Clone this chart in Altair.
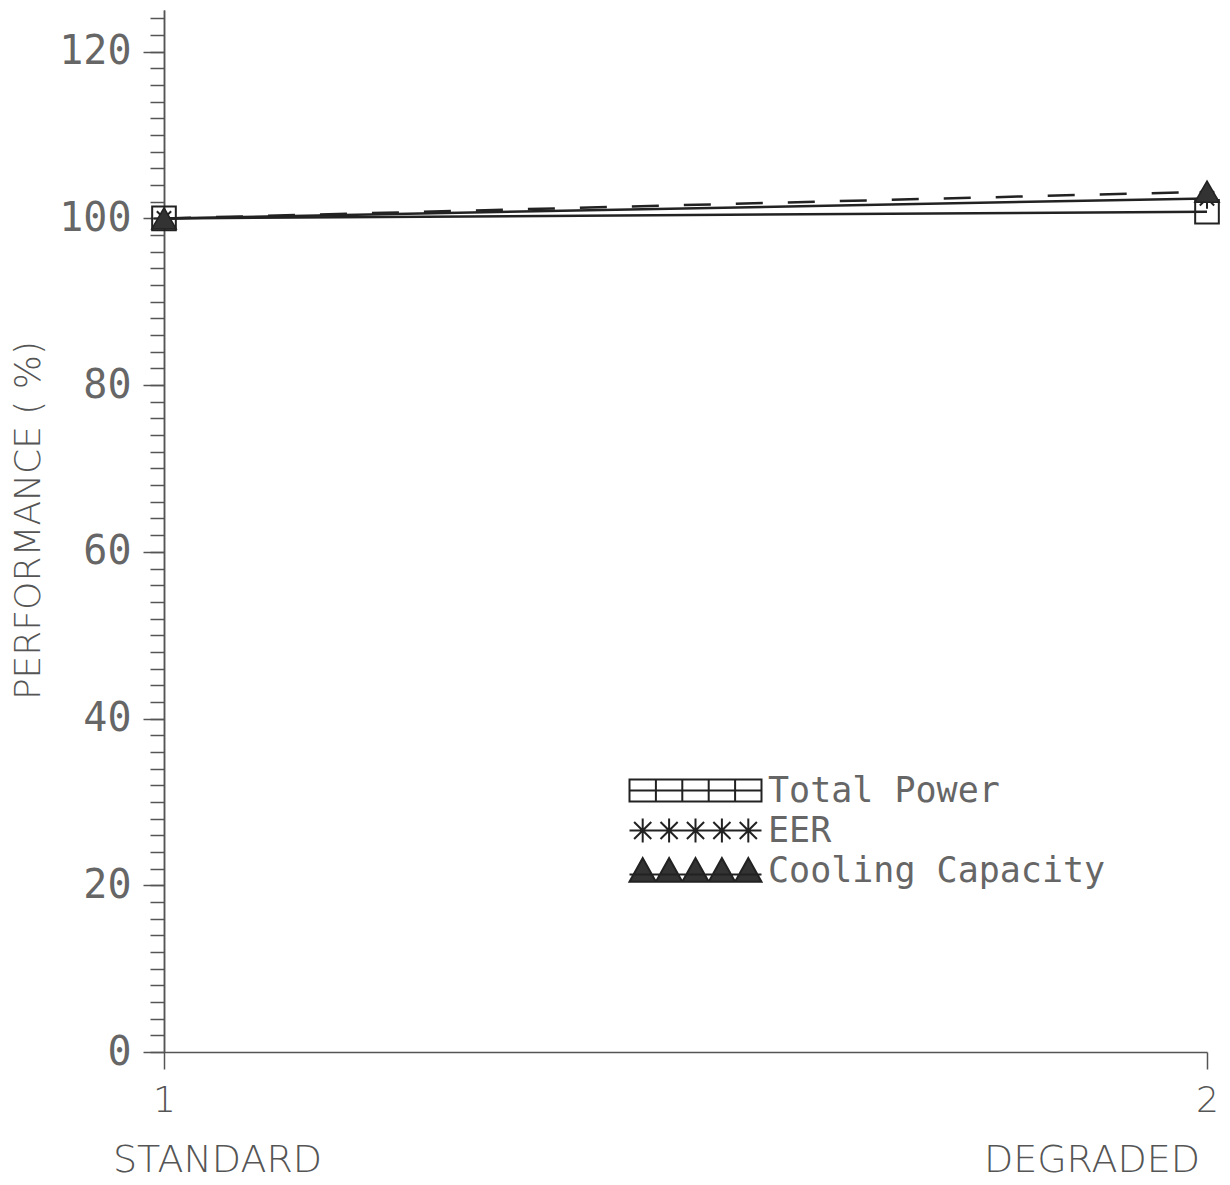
import altair as alt
import pandas as pd

# ---- data ----
x_vals = [1, 2]
x_names = ["STANDARD", "DEGRADED"]
series = ["Total Power", "EER", "Cooling Capacity"]
total_power = [100.0, 100.8]
eer = [100.0, 102.4]
cooling_capacity = [100.0, 103.2]
y_major = list(range(0, 121, 20))
y_minor = list(range(0, 125, 2))

rows = []
for name, vals in zip(series, [total_power, eer, cooling_capacity]):
    for xv, v in zip(x_vals, vals):
        rows.append({"x": xv, "value": v, "series": name})
df = pd.DataFrame(rows)
names_df = pd.DataFrame({"x": x_vals, "name": x_names})

INK = "#222222"
TXT = "#555555"
AX = "#555555"

# ---- legend symbol strips (5 markers joined by a line) ----
centers = [-4, -2, 0, 2, 4]
sq_path = "M-5,-0.83H5V0.83H-5Z" + "".join(f"M{c},-0.83V0.83" for c in [-3, -1, 1, 3]) + "M-5,0H5"
ast_path = "M-5,0H5" + "".join(
    f"M{c-0.9:.2f},0H{c+0.9:.2f}M{c},-0.9V0.9M{c-0.65:.2f},-0.65L{c+0.65:.2f},0.65M{c-0.65:.2f},0.65L{c+0.65:.2f},-0.65"
    for c in centers)
tri_path = "".join(f"M{c-1},0.85L{c},-0.95L{c+1},0.85Z" for c in centers) + "M-5,0.3H5"

yscale = alt.Scale(domain=[0, 125], nice=False)
x_enc = alt.X("x:Q", scale=alt.Scale(domain=[1, 2], nice=False, zero=False),
              axis=alt.Axis(values=x_vals, format="d", title=None, grid=False,
                            tickSize=17, labelFlush=False, labelPadding=14,
                            labelOverlap=False,
                            labelFont="DejaVu Sans", labelFontSize=36,
                            labelFontWeight=200, labelColor=TXT,
                            domainColor=AX, tickColor=AX,
                            domainWidth=1.5, tickWidth=1.5))
y_major_enc = alt.Y("value:Q", scale=yscale,
                    axis=alt.Axis(values=y_major, format="d", orient="left",
                                  labelOverlap=False, tickSize=21,
                                  grid=False, labelPadding=12,
                                  labelFont="DejaVu Sans Mono", labelFontSize=40,
                                  labelColor="#666666",
                                  domainColor=AX, tickColor=AX,
                                  domainWidth=1.5, tickWidth=1.5,
                                  title="PERFORMANCE ( %)", titleFont="DejaVu Sans",
                                  titleFontSize=36, titleFontWeight=200, titleColor=TXT,
                                  titleX=-136, titleY=510, titleBaseline="middle",
                                  titleAngle=270))
y_minor_enc = alt.Y("value:Q", scale=yscale,
                    axis=alt.Axis(values=y_minor, orient="left", labels=False,
                                  title=None, tickSize=14, grid=False,
                                  domainColor=AX, tickColor=AX,
                                  domainWidth=1.5, tickWidth=1.5))
y_none = alt.Y("value:Q", scale=yscale, axis=None)

base = alt.Chart(df)

solid_lines = base.transform_filter(alt.datum.series != "Cooling Capacity").mark_line(
    strokeWidth=2.5, color=INK
).encode(x=x_enc, y=y_major_enc, detail="series:N")

dashed_line = base.transform_filter(alt.datum.series == "Cooling Capacity").mark_line(
    strokeWidth=2.5, color=INK, strokeDash=[27, 25]
).encode(x="x:Q", y=y_none)

leg = alt.Legend(title=None, orient="none", legendX=514, legendY=763, padding=0,
                 labelFont="DejaVu Sans Mono", labelFontSize=35, labelColor="#666666",
                 labelOffset=55, rowPadding=4, symbolSize=697, symbolStrokeWidth=2,
                 symbolOpacity=1, labelLimit=600)

legend_layer = base.mark_point(
    filled=True, strokeWidth=2
).encode(
    x="x:Q", y=y_minor_enc,
    opacity=alt.value(0),
    shape=alt.Shape("series:N", scale=alt.Scale(domain=series, range=[sq_path, ast_path, tri_path]),
                    legend=leg),
    fill=alt.Fill("series:N", scale=alt.Scale(domain=series, range=["transparent", "transparent", "#333333"]),
                  legend=leg),
    stroke=alt.Stroke("series:N", scale=alt.Scale(domain=series, range=[INK, INK, INK]),
                      legend=leg),
)

squares = base.transform_filter(alt.datum.series == "Total Power").mark_point(
    shape="square", size=560, filled=False, stroke=INK, strokeWidth=2, opacity=1
).encode(x="x:Q", y=y_none)

asterisks = base.transform_filter(alt.datum.series == "EER").mark_point(
    shape="M-1,0L1,0M0,-1L0,1M-0.7,-0.7L0.7,0.7M-0.7,0.7L0.7,-0.7",
    size=420, filled=False, stroke=INK, strokeWidth=2, opacity=1
).encode(x="x:Q", y=y_none)

triangles = base.transform_filter(alt.datum.series == "Cooling Capacity").mark_point(
    shape="triangle-up", size=600, filled=True, fill="#333333", stroke=INK,
    strokeWidth=1.5, opacity=1
).encode(x="x:Q", y=y_none)

cat_layers = []
for i, (al, dx) in enumerate([("left", -51), ("right", -7)]):
    cat_layers.append(
        alt.Chart(names_df.iloc[[i]]).mark_text(
            align=al, dx=dx, baseline="middle", font="DejaVu Sans", fontSize=38,
            fontWeight=200, color=TXT
        ).encode(x="x:Q", y=alt.value(1151), text="name:N")
    )

chart = alt.layer(solid_lines, dashed_line, legend_layer, squares, asterisks, triangles,
                  *cat_layers).resolve_axis(
    y="independent"
).properties(
    width=1043, height=1042,
    autosize=alt.AutoSizeParams(type="none"),
    padding={"left": 164, "top": 10, "right": 23, "bottom": 133},
    background="white",
).configure_view(stroke=None)

chart.save("out.html", embed_options={"renderer": "svg", "actions": False})
